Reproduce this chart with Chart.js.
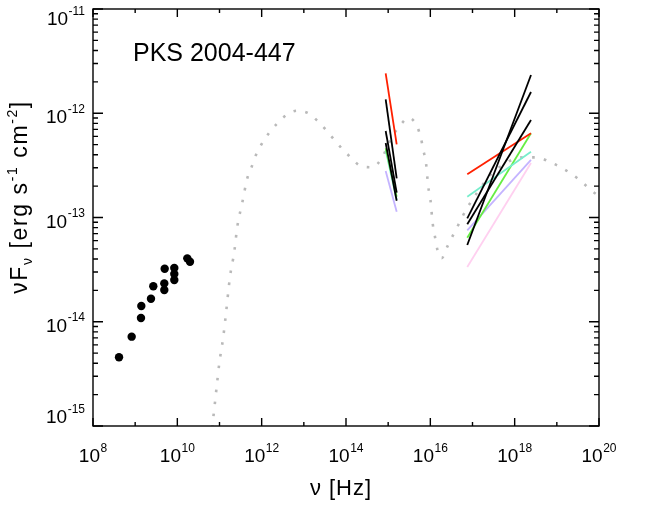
<!DOCTYPE html>
<html>
<head>
<meta charset="utf-8">
<script src="https://cdn.jsdelivr.net/npm/chart.js@4.4.1/dist/chart.umd.min.js"></script>
<style>
    html, body { margin: 0; padding: 0; background: #fff; }
    #wrap { width: 664px; height: 514px; position: relative; }
</style>
</head>
<body>
<div id="wrap"><canvas id="sed"></canvas></div>
<script>
// ── data, all as log10(nu / Hz) and log10(nuFnu / erg s-1 cm-2) ──
var radioLogNu   = [8.617, 8.917, 9.138, 9.146, 9.375, 9.430, 9.691, 9.691, 9.700, 9.928, 9.928, 9.928, 10.236, 10.300];
var radioLogFlux = [-14.341, -14.143, -13.964, -13.849, -13.779, -13.660, -13.695, -13.632, -13.491, -13.600, -13.542, -13.484, -13.392, -13.424];

var modelLogNu   = [10.80, 10.839, 10.869, 10.933, 10.995, 11.090, 11.154, 11.249, 11.351, 11.422, 11.540, 11.659, 11.763, 11.865,
                    12.000, 12.157, 12.356, 12.577, 12.830, 13.106, 13.343, 13.542, 13.739, 13.936, 14.135, 14.348, 14.623, 14.846,
                    15.083, 15.280, 15.486, 15.676, 15.778, 15.833, 15.897, 15.951, 16.003, 16.056, 16.110, 16.165, 16.269, 16.402,
                    16.530, 16.663, 16.781, 16.940, 17.099, 17.296, 17.493, 17.730, 17.967, 18.244, 18.522, 18.821, 19.091, 19.352,
                    19.589, 19.826, 20.0];
var modelLogFlux = [-15.25, -14.974, -14.863, -14.623, -14.399, -14.143, -13.919, -13.568, -13.328, -13.088, -12.858, -12.624, -12.513, -12.400,
                    -12.295, -12.199, -12.103, -12.020, -11.976, -12.000, -12.081, -12.168, -12.263, -12.353, -12.432, -12.506, -12.518, -12.432,
                    -12.231, -12.118, -12.044, -12.118, -12.240, -12.353, -12.477, -12.705, -12.832, -13.058, -13.184, -13.305, -13.391, -13.280,
                    -13.177, -13.072, -12.976, -12.864, -12.768, -12.657, -12.561, -12.496, -12.442, -12.423, -12.423, -12.465, -12.518, -12.583,
                    -12.657, -12.743, -12.794];

// optical/UV spectra (start, end)
var optLogNu      = [14.941, 15.202];
var optRed        = [-11.617, -12.298];
var optBlack1     = [-11.866, -12.624];
var optBlack2     = [-12.170, -12.762];
var optBlack3     = [-12.285, -12.839];
var optGreen      = [-12.336, -12.800];
var optCyan       = [-12.353, -12.832];
var optLavender   = [-12.554, -12.944];

// X-ray power laws (start, end)
var xrayLogNu     = [16.876, 18.387];
var xrayRed       = [-12.586, -12.192];
var xrayCyan      = [-12.800, -12.369];
var xrayBlackA    = [-13.264, -11.633];
var xrayBlackB    = [-13.008, -11.796];
var xrayBlackC    = [-13.065, -12.065];
var xrayGreen     = [-13.194, -12.192];
var xrayLavender  = [-13.123, -12.448];
var xrayPink      = [-13.475, -12.477];

var xTickExp = [8, 10, 12, 14, 16, 18, 20];
var yTickExp = [-15, -14, -13, -12, -11];

var FONT = '"Liberation Sans", Arial, Helvetica, sans-serif';

function toPoints(logx, logy) {
    var pts = [];
    for (var i = 0; i < logx.length; i++) pts.push({ x: Math.pow(10, logx[i]), y: Math.pow(10, logy[i]) });
    return pts;
}

function segment(logx, logy, color, order) {
    return {
        data: toPoints(logx, logy),
        borderColor: color,
        borderWidth: 1.8,
        pointRadius: 0,
        fill: false,
        tension: 0,
        order: order
    };
}

var datasets = [
    {
        label: 'model',
        data: toPoints(modelLogNu, modelLogFlux),
        borderColor: '#b9b9b9',
        borderWidth: 2.6,
        borderDash: [2.6, 9.4],
        borderCapStyle: 'butt',
        pointRadius: 0,
        fill: false,
        cubicInterpolationMode: 'monotone',
        order: 20
    },
    {
        label: 'radio',
        data: toPoints(radioLogNu, radioLogFlux),
        showLine: false,
        pointRadius: 4.2,
        pointBackgroundColor: '#000',
        pointBorderColor: '#000',
        pointBorderWidth: 0,
        order: 1
    },
    segment(optLogNu, optLavender, '#c4b4ff', 9),
    segment(optLogNu, optCyan,     '#77eecc', 8),
    segment(optLogNu, optGreen,    '#66ee44', 7),
    segment(optLogNu, optRed,      '#ff2000', 6),
    segment(optLogNu, optBlack3,   '#000000', 5),
    segment(optLogNu, optBlack2,   '#000000', 5),
    segment(optLogNu, optBlack1,   '#000000', 5),
    segment(xrayLogNu, xrayPink,     '#ffd0f0', 9),
    segment(xrayLogNu, xrayLavender, '#c4b4ff', 8),
    segment(xrayLogNu, xrayCyan,     '#77eecc', 7),
    segment(xrayLogNu, xrayGreen,    '#66ee44', 7),
    segment(xrayLogNu, xrayRed,      '#ff2000', 6),
    segment(xrayLogNu, xrayBlackA,   '#000000', 5),
    segment(xrayLogNu, xrayBlackB,   '#000000', 5),
    segment(xrayLogNu, xrayBlackC,   '#000000', 5)
];

// ── helper: "10" with raised exponent ──
function powLabel(ctx, exp, x, y, align) {
    var base = '19px ' + FONT, sup = '12px ' + FONT;
    ctx.font = base; var wb = ctx.measureText('10').width;
    ctx.font = sup;  var we = ctx.measureText(String(exp)).width;
    var x0 = align === 'center' ? x - (wb + we + 0.5) / 2 : x - (wb + we + 0.5);
    ctx.font = base; ctx.fillText('10', x0, y);
    ctx.font = sup;  ctx.fillText(String(exp), x0 + wb + 0.5, y - 10.5);
}

function drawRuns(ctx, runs, cx, cy, spacing) {
    var total = 0;
    ctx.letterSpacing = spacing + 'px';
    runs.forEach(function (r) { ctx.font = r.f; r.w = ctx.measureText(r.t).width; total += r.w; });
    var x = cx - total / 2;
    runs.forEach(function (r) { ctx.font = r.f; ctx.fillText(r.t, x, cy + (r.dy || 0)); x += r.w; });
    ctx.letterSpacing = '0px';
}

// ── IDL style frame: box, inward ticks, labels, titles ──
var framePlugin = {
    id: 'idlFrame',
    afterDatasetsDraw: function (chart) {
        var ctx = chart.ctx, a = chart.chartArea;
        var xs = chart.scales.x, ys = chart.scales.y;
        ctx.save();
        ctx.strokeStyle = '#000';
        ctx.fillStyle = '#000';
        ctx.lineWidth = 1.4;
        ctx.strokeRect(a.left, a.top, a.right - a.left, a.bottom - a.top);

        ctx.beginPath();
        // x ticks, every decade; labelled ones longer
        for (var e = 8; e <= 20; e++) {
            var px = xs.getPixelForValue(Math.pow(10, e));
            var len = (e % 2 === 0) ? 8 : 4;
            ctx.moveTo(px, a.bottom); ctx.lineTo(px, a.bottom - len);
            ctx.moveTo(px, a.top);    ctx.lineTo(px, a.top + len);
        }
        // y ticks, decades plus 2..9
        for (var d = -15; d < -11; d++) {
            for (var m = 1; m <= 9; m++) {
                var py = ys.getPixelForValue(m * Math.pow(10, d));
                var l = (m === 1) ? 10 : 5;
                ctx.moveTo(a.left, py);  ctx.lineTo(a.left + l, py);
                ctx.moveTo(a.right, py); ctx.lineTo(a.right - l, py);
            }
        }
        var pTop = ys.getPixelForValue(1e-11);
        ctx.moveTo(a.left, pTop);  ctx.lineTo(a.left + 10, pTop);
        ctx.moveTo(a.right, pTop); ctx.lineTo(a.right - 10, pTop);
        ctx.stroke();

        ctx.textAlign = 'left';
        ctx.textBaseline = 'alphabetic';
        xTickExp.forEach(function (e) {
            powLabel(ctx, e, xs.getPixelForValue(Math.pow(10, e)), 462, 'center');
        });
        yTickExp.forEach(function (e, i) {
            var py = ys.getPixelForValue(Math.pow(10, e));
            var off = 10;
            if (i === 0) off = -3;
            if (i === yTickExp.length - 1) off = 16;
            powLabel(ctx, e, 85, py + off, 'right');
        });

        // title inside the plot
        ctx.font = '25px ' + FONT;
        ctx.fillText('PKS 2004-447', 133, 61);

        // x axis title
        drawRuns(ctx, [{ t: '\u03BD [Hz]', f: '22px ' + FONT }], 341, 495, 1);

        // y axis title (rotated)
        var big = '23px ' + FONT, small = '14px ' + FONT;
        ctx.save();
        ctx.translate(27, 197);
        ctx.rotate(-Math.PI / 2);
        drawRuns(ctx, [
            { t: '\u03BDF', f: big },
            { t: '\u03BD', f: small, dy: 5 },
            { t: ' [erg s', f: big },
            { t: '-1', f: small, dy: -10 },
            { t: ' cm', f: big },
            { t: '-2', f: small, dy: -10 },
            { t: ']', f: big }
        ], 0, 0, 1.6);
        ctx.restore();
        ctx.restore();
    }
};

new Chart(document.getElementById('sed').getContext('2d'), {
    type: 'line',
    data: { datasets: datasets },
    options: {
        responsive: true,
        maintainAspectRatio: false,
        animation: false,
        layout: { padding: { left: 93, right: 65, top: 9, bottom: 88 } },
        plugins: { legend: { display: false }, tooltip: { enabled: false } },
        scales: {
            x: { type: 'logarithmic', min: 1e8, max: 1e20, display: false },
            y: { type: 'logarithmic', min: 1e-15, max: 1e-11, display: false }
        }
    },
    plugins: [framePlugin]
});
</script>
</body>
</html>
